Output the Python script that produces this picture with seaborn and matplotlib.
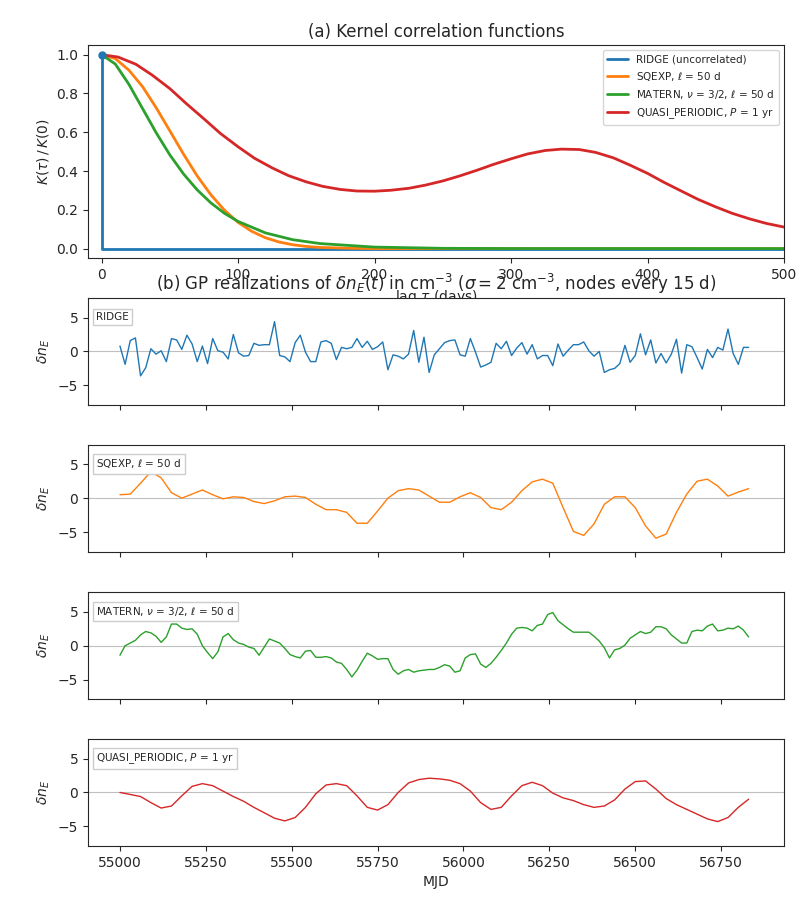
import seaborn as sns
import matplotlib.pyplot as plt
import pandas as pd
import numpy as np

# (a) kernel correlation functions
lag_sq = [0, 10, 20, 30, 40, 50, 60, 70, 80, 90, 100, 110, 120, 130, 140, 150, 160, 180, 200, 500]
k_sqexp = [1, .98, .92, .835, .726, .607, .487, .375, .278, .198, .135, .089, .056, .034, .020, .011, .006, .002, 0.0, 0.0]
lag_mat = [0, 10, 20, 30, 40, 50, 60, 70, 80, 90, 100, 120, 140, 160, 200, 250, 300, 500]
k_matern = [1, .952, .847, .722, .597, .483, .385, .303, .236, .182, .140, .081, .046, .026, .0078, .0015, .0003, 0.0]
lag_qp = [0, 12, 25, 37, 50, 62, 75, 87, 100, 112, 125, 137, 150, 162, 175, 187, 200, 212, 225, 237,
          250, 262, 275, 287, 300, 312, 325, 337, 350, 362, 375, 387, 400, 412, 425, 437, 450, 462, 475, 487, 500]
k_quasi = [1, .988, .951, .895, .825, .748, .669, .594, .525, .466, .416, .376, .344, .321, .305, .297, .296, .301,
           .311, .327, .349, .374, .404, .434, .463, .488, .506, .513, .511, .496, .468, .431, .388, .342, .296, .254,
           .215, .182, .153, .130, .111]
lag_ridge = [0, 0, 500]
k_ridge = [1, 0, 0]

# (b) GP realizations
ridge = [0.8, -1.9, 1.6, 2.0, -3.6, -2.4, 0.4, -0.4, 0.1, -1.5,
         1.9, 1.7, 0.3, 2.4, 1.1, -1.5, 0.8, -1.8, 1.9, 0.1,
         -0.1, -1.1, 2.5, -0.2, -0.7, -0.6, 1.2, 0.9, 1.0, 1.0,
         4.4, -0.6, -0.8, -1.5, 1.3, 2.4, -0.1, -1.5, -1.5, 1.4,
         1.6, 1.2, -1.2, 0.6, 0.4, 0.6, 1.9, 0.6, 1.5, 0.3,
         0.7, 1.4, -2.7, -0.5, -0.7, -1.1, -0.4, 3.1, -1.6, 2.1,
         -3.1, -0.5, 0.4, 1.3, 1.6, 1.7, -0.5, -0.7, 1.9, -0.1,
         -2.3, -2.0, -1.6, 1.2, 0.4, 1.5, -0.6, 0.5, 1.3, -0.4,
         1.0, -1.1, -0.6, -0.6, -2.1, 1.1, -0.7, 0.2, 1.0, 1.0,
         1.4, 0.1, -0.7, 0.0, -3.1, -2.7, -2.5, -1.8, 0.9, -1.6,
         -0.6, 2.6, -0.5, 1.7, -1.7, -0.3, -1.7, -0.4, 1.8, -3.2,
         1.0, 0.7, -0.9, -2.6, 0.3, -0.9, 0.6, 0.2, 3.3, -0.3,
         -1.9, 0.6, 0.6]
sqexp = [0.5, 0.6, 2.2, 3.9, 3.0, 0.8, 0.0, 0.6, 1.2, 0.5,
         -0.1, 0.2, 0.1, -0.5, -0.8, -0.4, 0.2, 0.3, 0.1, -0.9,
         -1.7, -1.7, -2.1, -3.7, -3.7, -1.9, 0.0, 1.1, 1.4, 1.2,
         0.3, -0.6, -0.6, 0.2, 0.8, 0.1, -1.4, -1.7, -0.6, 1.1,
         2.4, 2.8, 2.2, -1.4, -4.9, -5.5, -3.8, -0.9, 0.2, 0.2,
         -1.4, -4.1, -5.9, -5.3, -2.1, 0.6, 2.5, 2.8, 1.8, 0.3,
         0.9, 1.4]
matern = [-1.4, 0.0, 0.4, 0.8, 1.6, 2.1, 1.9, 1.4, 0.5, 1.3,
          3.2, 3.2, 2.6, 2.4, 2.5, 1.7, 0.0, -1.0, -1.9, -0.9,
          1.3, 1.8, 0.9, 0.4, 0.2, -0.2, -0.4, -1.4, -0.2, 1.0,
          0.7, 0.4, -0.4, -1.3, -1.6, -1.8, -0.8, -0.7, -1.7, -1.7,
          -1.6, -1.8, -2.4, -2.6, -3.5, -4.6, -3.6, -2.3, -1.1, -1.5,
          -2.0, -1.9, -1.9, -3.5, -4.2, -3.7, -3.5, -3.9, -3.7, -3.6,
          -3.5, -3.5, -3.2, -2.8, -3.0, -3.9, -3.7, -1.8, -1.3, -1.2,
          -2.7, -3.2, -2.6, -1.7, -0.7, 0.4, 1.7, 2.6, 2.7, 2.6,
          2.2, 3.0, 3.2, 4.6, 4.9, 3.7, 3.1, 2.5, 2.0, 2.0,
          2.0, 2.0, 1.4, 0.7, -0.3, -1.8, -0.6, -0.4, 0.1, 1.1,
          1.6, 2.1, 1.8, 2.0, 2.8, 2.8, 2.5, 1.6, 1.0, 0.4,
          0.4, 2.1, 2.3, 2.2, 2.9, 3.2, 2.2, 2.3, 2.6, 2.5,
          2.9, 2.3, 1.3]
quasi = [0.0, -0.3, -0.6, -1.5, -2.3, -2.0, -0.5, 0.9, 1.3, 1.0,
         0.2, -0.6, -1.3, -2.2, -3.0, -3.8, -4.2, -3.7, -2.2, -0.2,
         1.1, 1.3, 1.0, -0.5, -2.2, -2.6, -1.8, 0.0, 1.4, 1.9,
         2.1, 2.0, 1.8, 1.3, 0.2, -1.5, -2.5, -2.2, -0.5, 1.0,
         1.5, 1.0, -0.1, -0.8, -1.2, -1.8, -2.2, -2.0, -1.1, 0.5,
         1.6, 1.7, 0.5, -0.9, -1.8, -2.5, -3.2, -3.9, -4.3, -3.7,
         -2.2, -1.0]

mjd0 = 55000
fine_step = 15
coarse_step = 30

colors = ["#1f77b4", "#ff7f0e", "#2ca02c", "#d62728"]
labels = ["RIDGE (uncorrelated)", r"SQEXP, $\ell$ = 50 d",
          r"MATERN, $\nu$ = 3/2, $\ell$ = 50 d", r"QUASI_PERIODIC, $P$ = 1 yr"]
tags = ["RIDGE", r"SQEXP, $\ell$ = 50 d",
        r"MATERN, $\nu$ = 3/2, $\ell$ = 50 d", r"QUASI_PERIODIC, $P$ = 1 yr"]

sns.set_style("ticks")
plt.rcParams['font.family'] = ['DejaVu Sans']

fig = plt.figure(figsize=(8, 9), dpi=100)
ax0 = fig.add_axes([0.11, 0.713, 0.87, 0.237])

kernels = [(lag_ridge, k_ridge), (lag_sq, k_sqexp), (lag_mat, k_matern), (lag_qp, k_quasi)]
for (lag, k), c, lab in zip(kernels, colors, labels):
    df = pd.DataFrame({"lag": lag, "k": k})
    sns.lineplot(data=df, x="lag", y="k", ax=ax0, color=c, lw=2, label=lab,
                 sort=False, estimator=None)
ax0.plot([0], [1], "o", color=colors[0], ms=5)
ax0.set_xlim(-10, 500)
ax0.set_ylim(-0.05, 1.05)
ax0.set_xlabel(r"lag $\tau$ (days)")
ax0.set_ylabel(r"$K(\tau)\,/\,K(0)$")
ax0.set_title("(a) Kernel correlation functions")
ax0.legend(loc="upper right", fontsize=7.5)

series = [(ridge, fine_step), (sqexp, coarse_step), (matern, fine_step), (quasi, coarse_step)]
bottoms = [0.55, 0.387, 0.223, 0.06]
axes = []
for i, ((vals, step), c, tag) in enumerate(zip(series, colors, tags)):
    ax = fig.add_axes([0.11, bottoms[i], 0.87, 0.119], sharex=axes[0] if axes else None)
    axes.append(ax)
    df = pd.DataFrame({"mjd": mjd0 + step * np.arange(len(vals)), "v": vals})
    ax.axhline(0, color="0.75", lw=0.8)
    sns.lineplot(data=df, x="mjd", y="v", ax=ax, color=c, lw=1, estimator=None)
    ax.set_ylim(-7.9, 7.9)
    ax.set_yticks([-5, 0, 5])
    ax.set_ylabel(r"$\delta n_E$")
    ax.set_xlabel("")
    ax.text(0.012, 0.82, tag, transform=ax.transAxes, fontsize=7.5, va="center",
            bbox=dict(boxstyle="square,pad=0.3", fc="white", ec="0.8"))
    if i < 3:
        ax.tick_params(labelbottom=False)
axes[0].set_xlim(54907, 56933)
axes[-1].set_xlabel("MJD")

fig.text(0.545, 0.684, r"(b) GP realizations of $\delta n_E(t)$ in cm$^{-3}$ ($\sigma = 2$ cm$^{-3}$, nodes every 15 d)",
         ha="center", va="center", fontsize=12)

fig.savefig("out.png", dpi=100)
